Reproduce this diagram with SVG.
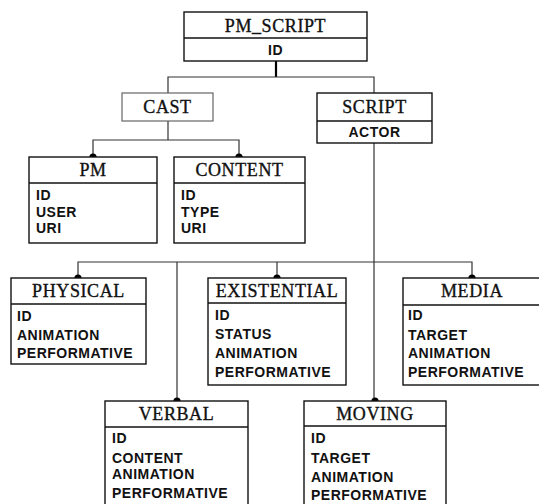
<svg xmlns="http://www.w3.org/2000/svg" width="539" height="504" viewBox="0 0 539 504">
<style>
.box{fill:#fff;stroke:#111;stroke-width:1.4}
.div{stroke:#111;stroke-width:1.4}
.t{font-family:"Liberation Serif","Times New Roman",serif;font-size:18px;letter-spacing:0.6px;fill:#111;stroke:#111;stroke-width:0.35;text-anchor:middle}
.a{font-family:"Liberation Sans",Arial,sans-serif;font-size:14px;font-weight:bold;letter-spacing:0.5px;fill:#111}
.ac{text-anchor:middle}
.c{fill:none;stroke:#333;stroke-width:1.2}
.dot{fill:#000}
</style>
<g id="connectors">
<line x1="276" y1="61" x2="276" y2="77" stroke="#000" stroke-width="2.2"/>
<polyline class="c" points="168,93 168,77 374,77 374,93"/>
<line class="c" x1="168" y1="121" x2="168" y2="140"/>
<polyline class="c" points="93,157 93,140 239,140 239,157"/>
<circle class="dot" cx="93" cy="157" r="3.6"/>
<circle class="dot" cx="239" cy="157" r="3.6"/>
<line class="c" x1="374" y1="143" x2="374" y2="401"/>
<polyline class="c" points="78,278 78,262 472,262 472,278"/>
<line class="c" x1="277" y1="262" x2="277" y2="278"/>
<line class="c" x1="177" y1="262" x2="177" y2="401"/>
<circle class="dot" cx="78" cy="278" r="3.6"/>
<circle class="dot" cx="277" cy="278" r="3.6"/>
<circle class="dot" cx="472" cy="278" r="3.6"/>
<circle class="dot" cx="177" cy="401" r="3.6"/>
<circle class="dot" cx="375" cy="401" r="3.6"/>
</g>
<g id="pm_script">
<rect class="box" x="184" y="12" width="183" height="49"/>
<line class="div" x1="184" y1="38" x2="367" y2="38"/>
<text class="t" x="275.5" y="32">PM_SCRIPT</text>
<text class="a ac" x="275.5" y="55">ID</text>
</g>
<g id="cast">
<rect x="122" y="93" width="91" height="28" fill="#fff" stroke="#666" stroke-width="1.2"/>
<text class="t" x="167.5" y="113">CAST</text>
</g>
<g id="script">
<rect class="box" x="317" y="93" width="115" height="50"/>
<line class="div" x1="317" y1="121" x2="432" y2="121"/>
<text class="t" x="374.5" y="113">SCRIPT</text>
<text class="a ac" x="374.5" y="137">ACTOR</text>
</g>
<g id="pm">
<rect class="box" x="29" y="157" width="128" height="86"/>
<line class="div" x1="29" y1="183" x2="157" y2="183"/>
<text class="t" x="93" y="176">PM</text>
<text class="a" x="36" y="200">ID</text>
<text class="a" x="36" y="216.5">USER</text>
<text class="a" x="36" y="233">URI</text>
</g>
<g id="content">
<rect class="box" x="174" y="157" width="131" height="86"/>
<line class="div" x1="174" y1="183" x2="305" y2="183"/>
<text class="t" x="239.5" y="176">CONTENT</text>
<text class="a" x="181" y="200">ID</text>
<text class="a" x="181" y="216.5">TYPE</text>
<text class="a" x="181" y="233">URI</text>
</g>
<g id="physical">
<rect class="box" x="11" y="278" width="135" height="86"/>
<line class="div" x1="11" y1="304" x2="146" y2="304"/>
<text class="t" x="78.5" y="297">PHYSICAL</text>
<text class="a" x="17" y="321">ID</text>
<text class="a" x="17" y="340">ANIMATION</text>
<text class="a" x="17" y="358">PERFORMATIVE</text>
</g>
<g id="existential">
<rect class="box" x="208" y="278" width="138" height="107"/>
<line class="div" x1="208" y1="303" x2="346" y2="303"/>
<text class="t" x="277" y="297">EXISTENTIAL</text>
<text class="a" x="215" y="320">ID</text>
<text class="a" x="215" y="339">STATUS</text>
<text class="a" x="215" y="358">ANIMATION</text>
<text class="a" x="215" y="377">PERFORMATIVE</text>
</g>
<g id="media">
<rect class="box" x="403" y="278" width="138" height="107"/>
<line class="div" x1="403" y1="305" x2="541" y2="305"/>
<text class="t" x="472" y="297">MEDIA</text>
<text class="a" x="408" y="320">ID</text>
<text class="a" x="408" y="340">TARGET</text>
<text class="a" x="408" y="358">ANIMATION</text>
<text class="a" x="408" y="377">PERFORMATIVE</text>
</g>
<g id="verbal">
<rect class="box" x="105" y="401" width="143" height="110"/>
<line class="div" x1="105" y1="427" x2="248" y2="427"/>
<text class="t" x="176.5" y="420">VERBAL</text>
<text class="a" x="112" y="443">ID</text>
<text class="a" x="112" y="463">CONTENT</text>
<text class="a" x="112" y="479">ANIMATION</text>
<text class="a" x="112" y="498">PERFORMATIVE</text>
</g>
<g id="moving">
<rect class="box" x="304" y="401" width="142" height="110"/>
<line class="div" x1="304" y1="426" x2="446" y2="426"/>
<text class="t" x="375" y="420">MOVING</text>
<text class="a" x="311" y="443">ID</text>
<text class="a" x="311" y="463">TARGET</text>
<text class="a" x="311" y="482">ANIMATION</text>
<text class="a" x="311" y="500">PERFORMATIVE</text>
</g>
</svg>
